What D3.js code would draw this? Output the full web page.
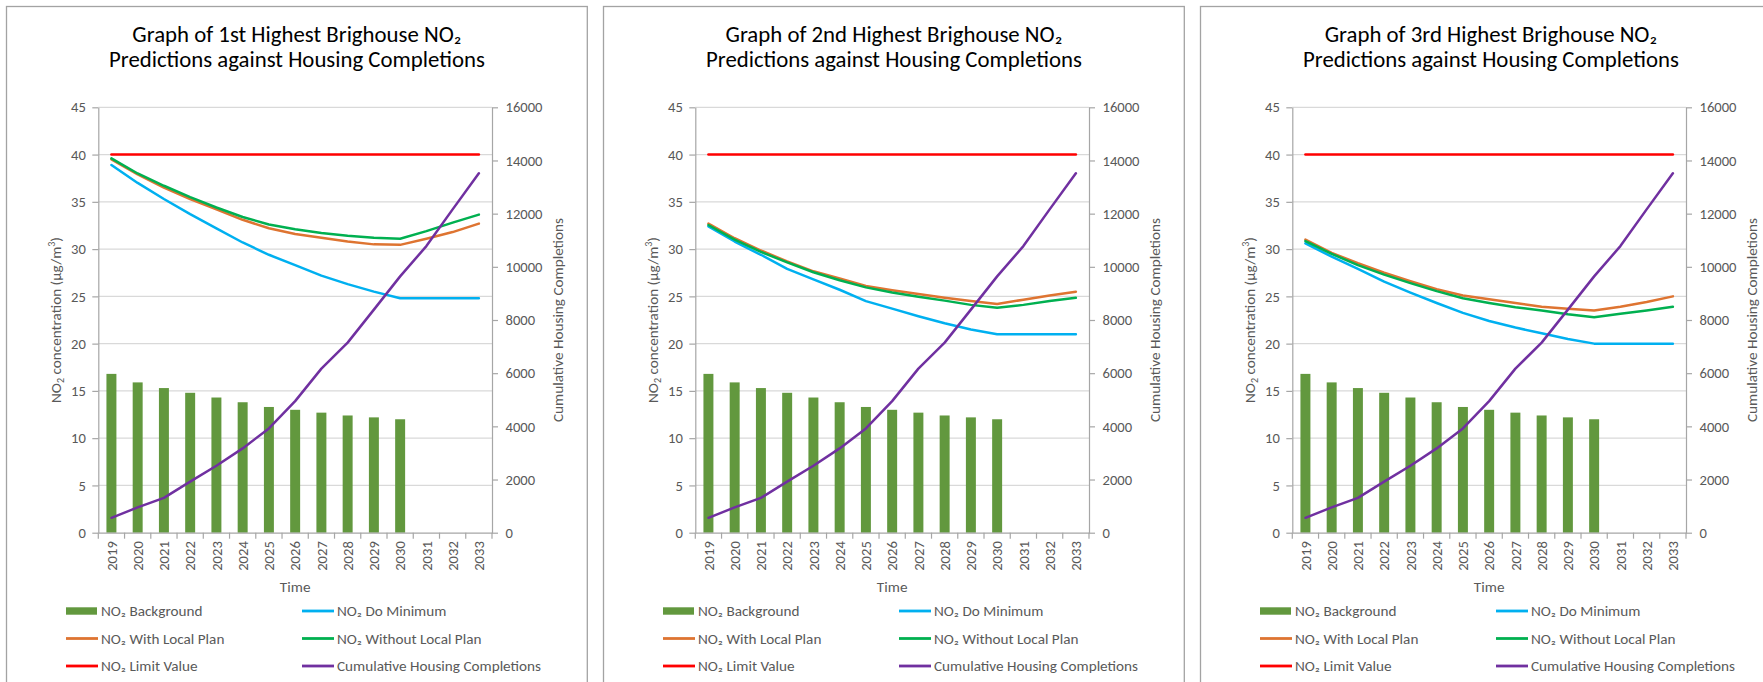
<!DOCTYPE html>
<html><head><meta charset="utf-8">
<script src="https://cdn.jsdelivr.net/npm/d3@7/dist/d3.min.js"></script>
<style>
body{margin:0;background:#fff}
svg{display:block}
text{font-family:Carlito,Lato,"Open Sans",sans-serif}
</style>
</head><body>
<svg id="c" width="1763" height="682"></svg>
<script>
// ---------- DATA ----------
const years = ["2019","2020","2021","2022","2023","2024","2025","2026","2027","2028","2029","2030","2031","2032","2033"];
const panelRanks = ["1st","2nd","3rd"];
const leftTicks = [0,5,10,15,20,25,30,35,40,45];
const rightTicks = [0,2000,4000,6000,8000,10000,12000,14000,16000];
const legendLabels = ["NO₂ Background","NO₂ Do Minimum","NO₂ With Local Plan","NO₂ Without Local Plan","NO₂ Limit Value","Cumulative Housing Completions"];

const no2Background = [16.8,15.9,15.3,14.8,14.3,13.8,13.3,13.0,12.7,12.4,12.2,12.0];
const no2LimitValue = [40,40,40,40,40,40,40,40,40,40,40,40,40,40,40];
const cumulativeHousing = [560,950,1310,1920,2520,3170,3920,4950,6170,7150,8390,9640,10780,12160,13520];

const p1DoMinimum   = [38.9,37.0,35.3,33.7,32.2,30.7,29.4,28.3,27.2,26.3,25.5,24.8,24.8,24.8,24.8];
const p1WithLP      = [39.5,37.9,36.5,35.3,34.2,33.1,32.2,31.6,31.2,30.8,30.5,30.45,31.1,31.8,32.7];
const p1WithoutLP   = [39.6,38.0,36.7,35.5,34.4,33.4,32.6,32.1,31.7,31.4,31.2,31.1,31.9,32.8,33.65];

const p2DoMinimum   = [32.4,30.8,29.4,27.9,26.8,25.7,24.5,23.7,22.9,22.15,21.5,21.0,21.0,21.0,21.0];
const p2WithLP      = [32.7,31.15,29.85,28.7,27.65,26.9,26.1,25.65,25.25,24.85,24.5,24.2,24.65,25.1,25.5];
const p2WithoutLP   = [32.55,31.0,29.7,28.6,27.55,26.7,25.95,25.4,24.95,24.55,24.1,23.8,24.1,24.5,24.85];

const p3DoMinimum   = [30.6,29.2,27.9,26.55,25.4,24.3,23.25,22.4,21.7,21.1,20.5,20.0,20.0,20.0,20.0];
const p3WithLP      = [31.0,29.6,28.5,27.5,26.6,25.75,25.1,24.7,24.3,23.9,23.7,23.5,23.9,24.4,25.0];
const p3WithoutLP   = [30.85,29.5,28.3,27.3,26.4,25.55,24.8,24.3,23.85,23.5,23.1,22.8,23.15,23.5,23.9];

const doMinimum = [p1DoMinimum, p2DoMinimum, p3DoMinimum];
const withLP = [p1WithLP, p2WithLP, p3WithLP];
const withoutLP = [p1WithoutLP, p2WithoutLP, p3WithoutLP];

// ---------- STYLE ----------
const C = {
  bar:"#62983E", doMin:"#00B0F0", withLP:"#DE7431", withoutLP:"#00B050",
  limit:"#FF0000", housing:"#7030A0", grid:"#D9D9D9", axis:"#A6A6A6",
  tick:"#595959", border:"#A3A3A3"
};
const LW = 2.5;
const FONT = "Carlito,Lato,'Open Sans',sans-serif";
const TITLE_FS = 22.8, TICK_FS = 14.6, LAB_FS = 15.2, LEG_FS = 15.2;

const svg = d3.select("#c");

panelRanks.forEach((rank, pi) => {
  const x0 = 6.5 + pi*597;
  const g = svg.append("g");
  const plotL = x0 + 91.8, plotR = x0 + 485.5, plotT = 107.3, plotB = 532.7;

  g.append("rect").attr("x", x0).attr("y", 6.5).attr("width", 580.8).attr("height", 720)
    .attr("fill","none").attr("stroke", C.border).attr("stroke-width", 1.3);

  const cx = x0 + 290.4;
  g.append("text").attr("x", cx).attr("y", 41.5).attr("text-anchor","middle")
    .attr("font-size", TITLE_FS).attr("fill","#000")
    .text("Graph of " + rank + " Highest Brighouse NO₂");
  g.append("text").attr("x", cx).attr("y", 67).attr("text-anchor","middle")
    .attr("font-size", TITLE_FS).attr("fill","#000").text("Predictions against Housing Completions");

  const x = d3.scaleBand().domain(years).range([plotL, plotR]).padding(0);
  const bw = x.bandwidth();
  const xc = d => x(d) + bw/2;
  const yL = d3.scaleLinear().domain([0,45]).range([plotB, plotT]);
  const yR = d3.scaleLinear().domain([0,16000]).range([plotB, plotT]);

  g.append("g").selectAll("line").data(leftTicks.filter(v=>v>0)).join("line")
    .attr("x1", plotL).attr("x2", plotR).attr("y1", d=>yL(d)).attr("y2", d=>yL(d))
    .attr("stroke", C.grid).attr("stroke-width", 1.2);

  const axL = g.append("g").attr("transform", `translate(${plotL},0)`)
    .call(d3.axisLeft(yL).tickValues(leftTicks).tickSize(6).tickSizeOuter(0).tickPadding(6.5));
  const axR = g.append("g").attr("transform", `translate(${plotR},0)`)
    .call(d3.axisRight(yR).tickValues(rightTicks).tickSize(6).tickSizeOuter(0).tickPadding(7.5).tickFormat(d3.format("d")));
  [axL, axR].forEach(a => {
    a.select(".domain").attr("stroke", C.axis).attr("stroke-width", 1.2);
    a.selectAll(".tick line").attr("stroke", C.axis).attr("stroke-width", 1.2);
    a.selectAll(".tick text").attr("fill", C.tick).attr("font-size", TICK_FS).attr("font-family", FONT);
  });

  const barW = bw * 0.38;
  g.append("g").selectAll("rect").data(no2Background).join("rect")
    .attr("x", (d,i)=> xc(years[i]) - barW/2).attr("width", barW)
    .attr("y", d=>yL(d)).attr("height", d=>yL(0)-yL(d)).attr("fill", C.bar);

  const axB = g.append("g").attr("transform", `translate(0,${plotB})`)
    .call(d3.axisBottom(x).tickSize(0).tickSizeOuter(0).tickPadding(0));
  axB.select(".domain").attr("stroke", C.axis).attr("stroke-width", 1.2);
  axB.selectAll(".tick text").attr("fill", C.tick).attr("font-size", TICK_FS).attr("font-family", FONT)
    .attr("transform","rotate(-90)").attr("text-anchor","end")
    .attr("x", -8.5).attr("y", 0).attr("dy","0.36em");
  const bounds = years.map(d=>x(d)).concat([plotR]);
  g.append("g").selectAll("line").data(bounds).join("line")
    .attr("x1", d=>d).attr("x2", d=>d).attr("y1", plotB).attr("y2", plotB+6)
    .attr("stroke", C.axis).attr("stroke-width", 1.2);

  const lineL = d3.line().x((d,i)=>xc(years[i])).y(d=>yL(d));
  const lineR = d3.line().x((d,i)=>xc(years[i])).y(d=>yR(d));
  const addLine = (data, gen, col) => g.append("path").datum(data).attr("d", gen)
    .attr("fill","none").attr("stroke", col).attr("stroke-width", LW)
    .attr("stroke-linejoin","round").attr("stroke-linecap","round");
  addLine(doMinimum[pi], lineL, C.doMin);
  addLine(withLP[pi], lineL, C.withLP);
  addLine(withoutLP[pi], lineL, C.withoutLP);
  addLine(no2LimitValue, lineL, C.limit);
  addLine(cumulativeHousing, lineR, C.housing);

  const yt = g.append("text").attr("transform", `translate(${plotL-43},${(plotT+plotB)/2}) rotate(-90)`)
    .attr("text-anchor","middle").attr("dy","0.35em").attr("font-size", LAB_FS).attr("fill", C.tick);
  yt.append("tspan").text("NO");
  yt.append("tspan").attr("font-size", LAB_FS*0.66).attr("dy", 3.2).text("2");
  yt.append("tspan").attr("dy", -3.2).text(" concentration (μg/m");
  yt.append("tspan").attr("font-size", LAB_FS*0.66).attr("dy", -5.5).text("3");
  yt.append("tspan").attr("dy", 5.5).text(")");

  g.append("text").attr("transform", `translate(${plotR+66},${(plotT+plotB)/2}) rotate(-90)`)
    .attr("text-anchor","middle").attr("dy","0.35em").attr("font-size", LAB_FS).attr("fill", C.tick)
    .text("Cumulative Housing Completions");

  g.append("text").attr("x", (plotL+plotR)/2).attr("y", 592).attr("text-anchor","middle")
    .attr("font-size", LAB_FS).attr("fill", C.tick).text("Time");

  const legendCols = [C.bar, C.doMin, C.withLP, C.withoutLP, C.limit, C.housing];
  const colX = [x0+59.5, x0+295.5];
  const rowY = [611, 638.5, 666];
  legendLabels.forEach((lab, i) => {
    const lx = colX[i % 2], ly = rowY[Math.floor(i / 2)];
    if (i === 0) {
      g.append("rect").attr("x", lx).attr("y", ly-3.7).attr("width", 31).attr("height", 7.4).attr("fill", legendCols[i]);
    } else {
      g.append("line").attr("x1", lx).attr("x2", lx+32).attr("y1", ly).attr("y2", ly)
        .attr("stroke", legendCols[i]).attr("stroke-width", 2.8);
    }
    g.append("text").attr("x", lx+35).attr("y", ly).attr("dy","0.35em")
      .attr("font-size", LEG_FS).attr("fill", C.tick).text(lab);
  });
});
</script>
</body></html>
